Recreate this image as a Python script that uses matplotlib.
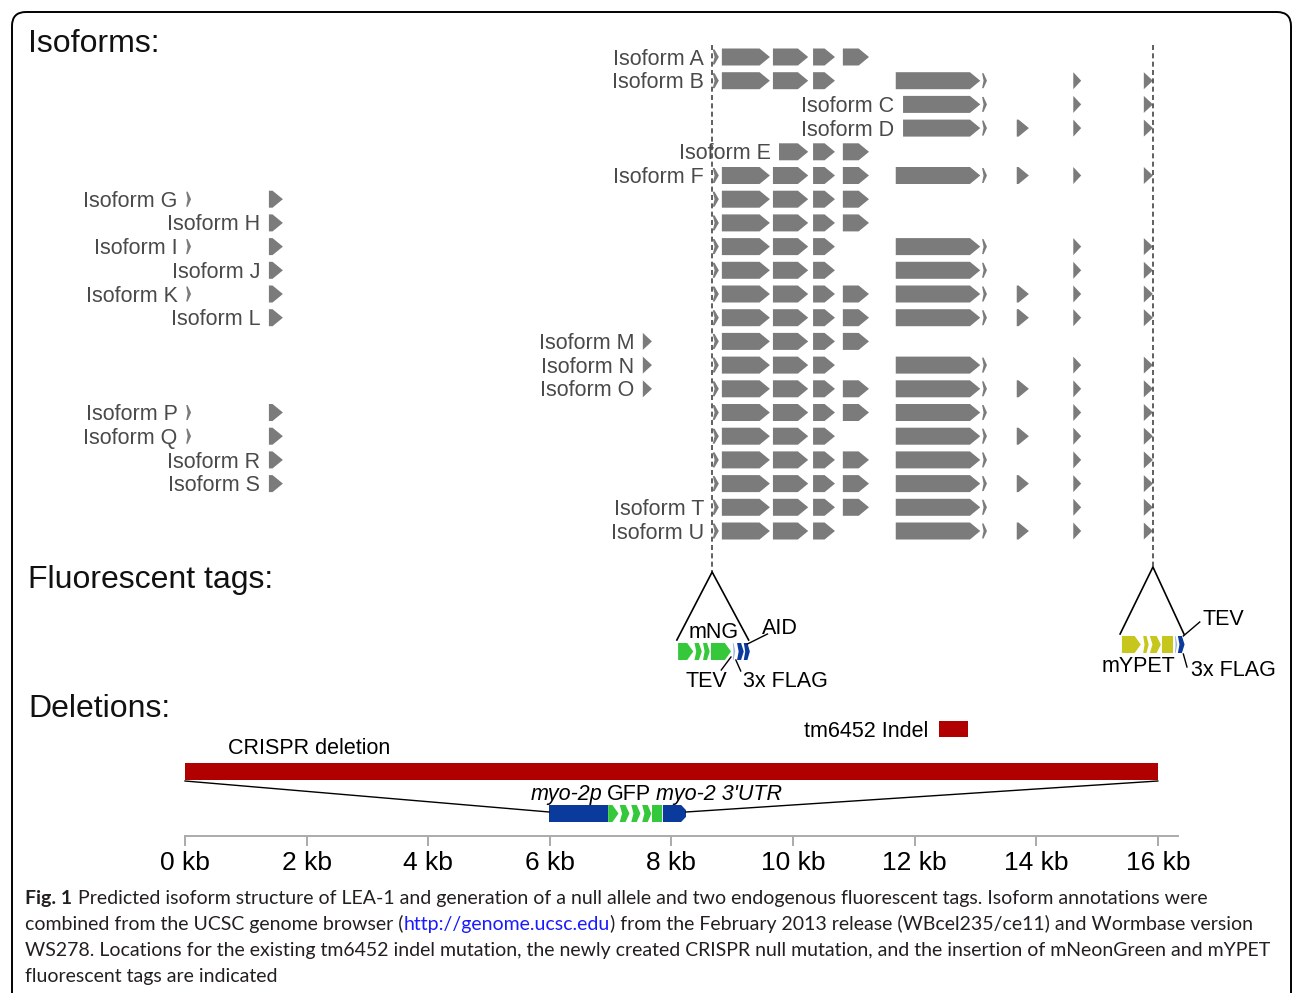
import matplotlib
matplotlib.use("Agg")
import matplotlib.pyplot as plt
from matplotlib.patches import Polygon, Rectangle, FancyBboxPatch

W, H = 1293, 993
KB0_PX = 185          # pixel column of 0 kb
PX_PER_KB = 60.8
ROW_Y0, ROW_STEP = 57, 23.7

# exon coordinates (kb) and their drawing kind
exons = {
    "g1": (0.02, 0.10, "thin"),
    "g2": (1.38, 1.61, "arrow"),
    "m1": (7.53, 7.68, "arrow"),
    "t1": (8.68, 8.78, "thin"),
    "e1": (8.83, 9.62, "arrow"),
    "e2": (9.67, 10.25, "arrow"),
    "e2s": (9.77, 10.25, "arrow"),
    "e3": (10.33, 10.69, "arrow"),
    "e4": (10.82, 11.25, "arrow"),
    "e5": (11.69, 13.08, "arrow"),
    "e5s": (11.81, 13.08, "arrow"),
    "t2": (13.11, 13.19, "thin"),
    "e6": (13.68, 13.88, "arrow"),
    "e7": (14.61, 14.74, "arrow"),
    "e8": (15.77, 15.92, "arrow"),
}

isoform_names = list("ABCDEFGHIJKLMNOPQRSTU")
isoform_exons = [
    ["t1", "e1", "e2", "e3", "e4"],
    ["t1", "e1", "e2", "e3", "e5", "t2", "e7", "e8"],
    ["e5s", "t2", "e7", "e8"],
    ["e5s", "t2", "e6", "e7", "e8"],
    ["e2s", "e3", "e4"],
    ["t1", "e1", "e2", "e3", "e4", "e5", "t2", "e6", "e7", "e8"],
    ["g1", "g2", "t1", "e1", "e2", "e3", "e4"],
    ["g2", "t1", "e1", "e2", "e3", "e4"],
    ["g1", "g2", "t1", "e1", "e2", "e3", "e5", "t2", "e7", "e8"],
    ["g2", "t1", "e1", "e2", "e3", "e5", "t2", "e7", "e8"],
    ["g1", "g2", "t1", "e1", "e2", "e3", "e4", "e5", "t2", "e6", "e7", "e8"],
    ["g2", "t1", "e1", "e2", "e3", "e4", "e5", "t2", "e6", "e7", "e8"],
    ["m1", "t1", "e1", "e2", "e3", "e4"],
    ["m1", "t1", "e1", "e2", "e3", "e5", "t2", "e7", "e8"],
    ["m1", "t1", "e1", "e2", "e3", "e4", "e5", "t2", "e6", "e7", "e8"],
    ["g1", "g2", "t1", "e1", "e2", "e3", "e4", "e5", "t2", "e7", "e8"],
    ["g1", "g2", "t1", "e1", "e2", "e3", "e5", "t2", "e6", "e7", "e8"],
    ["g2", "t1", "e1", "e2", "e3", "e4", "e5", "t2", "e7", "e8"],
    ["g2", "t1", "e1", "e2", "e3", "e4", "e5", "t2", "e6", "e7", "e8"],
    ["t1", "e1", "e2", "e3", "e4", "e5", "t2", "e7", "e8"],
    ["t1", "e1", "e2", "e3", "e5", "t2", "e6", "e7", "e8"],
]

# insertion sites (kb)
mng_site = 8.67
ypet_site = 15.92

GREEN, BLUE, LBLUE, YELLOW, RED = "#35c83a", "#0a3a9c", "#9ab8e6", "#c6c61c", "#b00000"
GRAY = "#7b7b7b"

# tag pieces: (start kb, end kb, kind, colour)
mng_pieces = [(8.11, 8.36, "arrow", GREEN), (8.38, 8.50, "chev", GREEN),
              (8.52, 8.63, "chev", GREEN), (8.65, 8.98, "arrow", GREEN),
              (9.01, 9.05, "thin", LBLUE), (9.08, 9.19, "chev", BLUE),
              (9.19, 9.29, "chev", BLUE)]
ypet_pieces = [(15.41, 15.72, "arrow", YELLOW), (15.76, 15.85, "chev", YELLOW),
               (15.87, 16.05, "chev", YELLOW), (16.07, 16.25, "box", YELLOW),
               (16.28, 16.32, "thin", LBLUE), (16.33, 16.44, "chev", BLUE)]
insert_pieces = [(5.99, 6.96, "box", BLUE), (6.96, 7.13, "arrow", GREEN),
                 (7.15, 7.31, "chev", GREEN), (7.34, 7.49, "chev", GREEN),
                 (7.52, 7.67, "chev", GREEN), (7.68, 7.85, "box", GREEN),
                 (7.86, 8.24, "round", BLUE)]
crispr_del = (0.0, 16.0)
indel_box = (12.40, 12.88)
scale_ticks = [0, 2, 4, 6, 8, 10, 12, 14, 16]
scale_end = 16.33

FONT = ["Liberation Sans", "DejaVu Sans"]
plt.rcParams["font.family"] = FONT

fig = plt.figure(figsize=(W / 100, H / 100), dpi=100)
lay = fig.add_axes([0, 0, 1, 1])
lay.set_xlim(0, W)
lay.set_ylim(H, 0)
lay.axis("off")
ax = fig.add_axes([0, 0, 1, 1])
ax.set_xlim(-KB0_PX / PX_PER_KB, (W - KB0_PX) / PX_PER_KB)
ax.set_ylim(H, 0)
ax.axis("off")
ax.patch.set_alpha(0)


def shape(x0, x1, yc, h, kind, color, tip=0.17):
    top, bot = yc - h / 2, yc + h / 2
    w = x1 - x0
    if kind == "thin":
        pts = [(x0, top), (x0 + 0.3 * w, top), (x1, yc), (x0 + 0.3 * w, bot), (x0, bot),
               (x0 + 0.3 * w, yc)]
    elif kind == "box":
        pts = [(x0, top), (x1, top), (x1, bot), (x0, bot)]
    elif kind == "chev":
        t = min(0.07, w * 0.4)
        pts = [(x0, top), (x1 - t, top), (x1, yc), (x1 - t, bot), (x0, bot), (x0 + t * 0.6, yc)]
    elif kind == "round":
        t = 0.08
        pts = [(x0, top), (x1 - t, top), (x1, yc - h * 0.2), (x1, yc + h * 0.2),
               (x1 - t, bot), (x0, bot)]
    else:
        t = min(tip, w)
        pts = [(x0, top), (x1 - t, top), (x1, yc), (x1 - t, bot), (x0, bot)]
    ax.add_patch(Polygon(pts, closed=True, fc=color, ec="none"))


# isoform rows
for i, (name, ex) in enumerate(zip(isoform_names, isoform_exons)):
    y = ROW_Y0 + i * ROW_STEP
    for key in ex:
        x0, x1, kind = exons[key]
        shape(x0, x1, y, 15 if kind == "thin" else 17, kind, GRAY)
    first = exons[ex[0]][0]
    ax.text(first - 0.14, y + 7.6, f"Isoform {name}", ha="right", va="baseline",
            fontsize=15.5, color="#4a4a4a")

# dashed insertion markers
ax.plot([mng_site, mng_site], [45, 572], ls=(0, (3, 2)), color="#444444", lw=1.2)
ax.plot([ypet_site, ypet_site], [45, 567], ls=(0, (3, 2)), color="#444444", lw=1.2)

# insertion wedges
ax.plot([8.09, mng_site, 9.27], [640, 572, 640], color="black", lw=1.2)
ax.plot([15.38, ypet_site, 16.43], [634, 567, 634], color="black", lw=1.2)
for x0, x1, kind, c in mng_pieces:
    shape(x0, x1, 651.5, 17, kind, c, tip=0.1)
for x0, x1, kind, c in ypet_pieces:
    shape(x0, x1, 644.5, 17, kind, c, tip=0.1)

tag_fs = 15.5
ax.text(mng_site + 0.03, 638, "mNG", ha="center", va="baseline", fontsize=tag_fs)
ax.text(9.49, 634, "AID", ha="left", va="baseline", fontsize=tag_fs)
ax.plot([9.25, 9.58], [644, 634], color="black", lw=1)
ax.text(8.24, 687, "TEV", ha="left", va="baseline", fontsize=tag_fs)
ax.plot([8.98, 8.82], [657, 670], color="black", lw=1)
ax.text(9.18, 687, "3x FLAG", ha="left", va="baseline", fontsize=tag_fs)
ax.plot([9.06, 9.14], [660, 671], color="black", lw=1)

ax.text(16.73, 625, "TEV", ha="left", va="baseline", fontsize=tag_fs)
ax.plot([16.42, 16.69], [636, 622], color="black", lw=1)
ax.text(15.08, 672, "mYPET", ha="left", va="baseline", fontsize=tag_fs)
ax.text(16.54, 676, "3x FLAG", ha="left", va="baseline", fontsize=tag_fs)
ax.plot([16.42, 16.48], [654, 667], color="black", lw=1)

# deletions
ax.add_patch(Rectangle((crispr_del[0], 763), crispr_del[1] - crispr_del[0], 17, fc=RED, ec="none"))
ax.add_patch(Rectangle((indel_box[0], 721), indel_box[1] - indel_box[0], 16, fc=RED, ec="none"))
ax.text(indel_box[0] - 0.18, 737, "tm6452 Indel", ha="right", va="baseline", fontsize=tag_fs)
ax.text(0.71, 754, "CRISPR deletion", ha="left", va="baseline", fontsize=tag_fs)
ax.plot([crispr_del[0], insert_pieces[0][0]], [781, 812], color="black", lw=1)
ax.plot([crispr_del[1], insert_pieces[-1][1]], [781, 812], color="black", lw=1)
for x0, x1, kind, c in insert_pieces:
    shape(x0, x1, 813.5, 17, kind, c, tip=0.1)

t1 = ax.text(5.68, 800, "myo-2p", ha="left", va="baseline", fontsize=15.5, style="italic")
t2 = ax.annotate("GFP", xy=(1, 0), xycoords=t1, xytext=(5, 0), textcoords="offset pixels",
                 ha="left", va="bottom", fontsize=15.5)
ax.annotate("myo-2 3'UTR", xy=(1, 0), xycoords=t2, xytext=(5, 0), textcoords="offset pixels",
            ha="left", va="bottom", fontsize=15.5, style="italic")

# kb scale
sc = fig.add_axes([KB0_PX / W, (H - 836) / H, scale_end * PX_PER_KB / W, 0.0005])
sc.set_xlim(0, scale_end)
sc.set_xticks(scale_ticks)
sc.set_xticklabels([f"{v} kb" for v in scale_ticks], fontsize=19)
sc.set_yticks([])
for s in ("top", "left", "right"):
    sc.spines[s].set_visible(False)
sc.spines["bottom"].set_color("#aaaaaa")
sc.spines["bottom"].set_linewidth(1.4)
sc.tick_params(axis="x", direction="out", length=7.5, width=1.4, color="#aaaaaa", pad=3)
sc.patch.set_alpha(0)

# section titles
for text, yb in [("Isoforms:", 52), ("Fluorescent tags:", 588), ("Deletions:", 717)]:
    lay.text(28, yb, text, ha="left", va="baseline", fontsize=23, color="#111111")

# border
lay.add_patch(FancyBboxPatch((12, 12), 1279, 1000, boxstyle="round,pad=0,rounding_size=14",
                             fc="none", ec="black", lw=1.4))

# caption
cap_font = ["Lato", "DejaVu Sans"]
cap_fs = 14.0
cap_color = "#231f20"
c1 = lay.text(25, 904, "Fig. 1", ha="left", va="baseline", fontsize=cap_fs,
              fontweight="bold", color=cap_color, family=cap_font)
lay.annotate("Predicted isoform structure of LEA-1 and generation of a null allele and two "
             "endogenous fluorescent tags. Isoform annotations were",
             xy=(1, 0), xycoords=c1, xytext=(6, 0), textcoords="offset pixels",
             ha="left", va="bottom", fontsize=cap_fs, color=cap_color, family=cap_font)
c2 = lay.text(25, 930, "combined from the UCSC genome browser (", ha="left", va="baseline",
              fontsize=cap_fs, color=cap_color, family=cap_font)
c3 = lay.annotate("http://genome.ucsc.edu", xy=(1, 0), xycoords=c2, ha="left", va="bottom",
                  fontsize=cap_fs, color="#1a1aff", family=cap_font)
lay.annotate(") from the February 2013 release (WBcel235/ce11) and Wormbase version",
             xy=(1, 0), xycoords=c3, ha="left", va="bottom", fontsize=cap_fs,
             color=cap_color, family=cap_font)
lay.text(25, 956, "WS278. Locations for the existing tm6452 indel mutation, the newly created "
         "CRISPR null mutation, and the insertion of mNeonGreen and mYPET",
         ha="left", va="baseline", fontsize=cap_fs, color=cap_color, family=cap_font)
lay.text(25, 982, "fluorescent tags are indicated", ha="left", va="baseline",
         fontsize=cap_fs, color=cap_color, family=cap_font)

fig.savefig("out.png", dpi=100)
